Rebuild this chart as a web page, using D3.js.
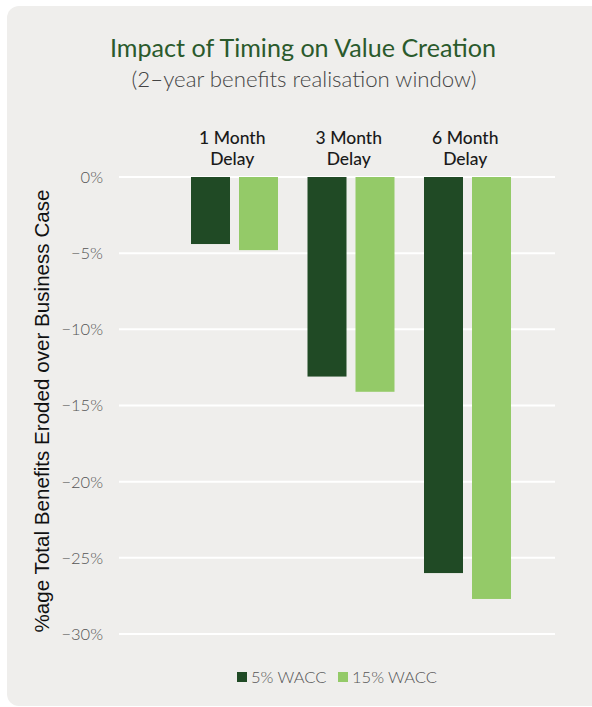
<!DOCTYPE html>
<html>
<head>
<meta charset="utf-8">
<script src="https://cdn.jsdelivr.net/npm/d3@7"></script>
<style>
  html, body { margin: 0; padding: 0; background: #ffffff; }
  svg { display: block; }
</style>
</head>
<body>
<svg id="chart" width="592" height="707"></svg>
<script>
// ---- data ----
const categories = ["1 Month Delay", "3 Month Delay", "6 Month Delay"];
const categoryLines = [["1 Month", "Delay"], ["3 Month", "Delay"], ["6 Month", "Delay"]];
const seriesNames = ["5% WACC", "15% WACC"];
const wacc5 = [-4.4, -13.1, -26.0];
const wacc15 = [-4.8, -14.1, -27.7];
const yTicks = [0, -5, -10, -15, -20, -25, -30];
const titleText = "Impact of Timing on Value Creation";
const subtitleText = "(2\u2013year benefits realisation window)";
const yAxisTitle = "%age Total Benefits Eroded over Business Case";

const colors = ["#204a25", "#94ca68"];
const series = [wacc5, wacc15];

const svg = d3.select("#chart");

// fit a text element's font size so that it spans a target width
function fitWidth(sel, target) {
  const node = sel.node();
  const fs = parseFloat(sel.attr("font-size"));
  const w = node.getComputedTextLength();
  if (w > 0) sel.attr("font-size", (fs * target / w).toFixed(2));
  return sel;
}

// panel background
svg.append("rect")
  .attr("x", 7).attr("y", 6)
  .attr("width", 610).attr("height", 700)
  .attr("rx", 12).attr("ry", 12)
  .attr("fill", "#efeeec");

// title
fitWidth(svg.append("text")
  .attr("x", 303).attr("y", 57)
  .attr("text-anchor", "middle")
  .attr("font-family", "Lato, 'Open Sans', sans-serif")
  .attr("font-size", 23)
  .attr("fill", "#2b5a2c")
  .text(titleText), 386);

fitWidth(svg.append("text")
  .attr("x", 304).attr("y", 87)
  .attr("text-anchor", "middle")
  .attr("font-family", "Lato, 'Open Sans', sans-serif")
  .attr("font-weight", 300)
  .attr("font-size", 19)
  .attr("fill", "#444444")
  .text(subtitleText), 345);

// scales
const y = d3.scaleLinear().domain([0, -30]).range([177, 634]);
const x0 = d3.scaleBand().domain(categories).range([176, 525.5]).padding(0);
const x1 = d3.scaleBand().domain(seriesNames).range([15, 102]).paddingInner(0.1875).paddingOuter(0);

// gridlines
svg.append("g").selectAll("line")
  .data(yTicks)
  .join("line")
  .attr("x1", 119).attr("x2", 555)
  .attr("y1", d => y(d)).attr("y2", d => y(d))
  .attr("stroke", "#ffffff")
  .attr("stroke-width", 2);

// y axis labels
const fmt = d => (d < 0 ? "\u2212" + Math.abs(d) : d) + "%";
svg.append("g").selectAll("text")
  .data(yTicks)
  .join("text")
  .attr("x", 103)
  .attr("y", d => y(d))
  .attr("dy", "0.36em")
  .attr("text-anchor", "end")
  .attr("font-family", "Lato, 'Open Sans', sans-serif")
  .attr("font-weight", 300)
  .attr("font-size", 16.5)
  .attr("fill", "#555555")
  .text(fmt);

// y axis title
fitWidth(svg.append("text")
  .attr("transform", `translate(49, 411) rotate(-90)`)
  .attr("text-anchor", "middle")
  .attr("font-family", "'Liberation Sans', Arial, sans-serif")
  .attr("font-size", 18)
  .attr("fill", "#111111")
  .text(yAxisTitle), 443);

// bars
const groups = svg.append("g").selectAll("g")
  .data(categories)
  .join("g")
  .attr("transform", d => `translate(${x0(d)},0)`);

groups.selectAll("rect")
  .data((d, i) => seriesNames.map((s, j) => ({ s, v: series[j][i], j })))
  .join("rect")
  .attr("x", d => x1(d.s))
  .attr("width", x1.bandwidth())
  .attr("y", y(0))
  .attr("height", d => y(d.v) - y(0))
  .attr("fill", d => colors[d.j]);

// category labels
const catLabels = svg.append("g").selectAll("text")
  .data(categories)
  .join("text")
  .attr("x", d => x0(d) + x0.bandwidth() / 2 - 2)
  .attr("y", 144)
  .attr("text-anchor", "middle")
  .attr("font-family", "Lato, 'Open Sans', sans-serif")
  .attr("font-weight", 500)
  .attr("font-size", 17.5)
  .attr("fill", "#1a1a1a");
catLabels.each(function (d, i) {
  const t = d3.select(this);
  categoryLines[i].forEach((line, k) => {
    t.append("tspan")
      .attr("x", x0(d) + x0.bandwidth() / 2 - 2)
      .attr("dy", k === 0 ? 0 : 21)
      .text(line);
  });
});

// legend
const legend = svg.append("g");
const legendX = [237, 338];
seriesNames.forEach((s, i) => {
  legend.append("rect")
    .attr("x", legendX[i]).attr("y", 672)
    .attr("width", 10).attr("height", 10)
    .attr("fill", colors[i]);
  legend.append("text")
    .attr("x", legendX[i] + 14).attr("y", 682.5)
    .attr("font-family", "Lato, 'Open Sans', sans-serif")
    .attr("font-weight", 300)
    .attr("font-size", 16.5)
    .attr("fill", "#555555")
    .text(s);
});
</script>
</body>
</html>
